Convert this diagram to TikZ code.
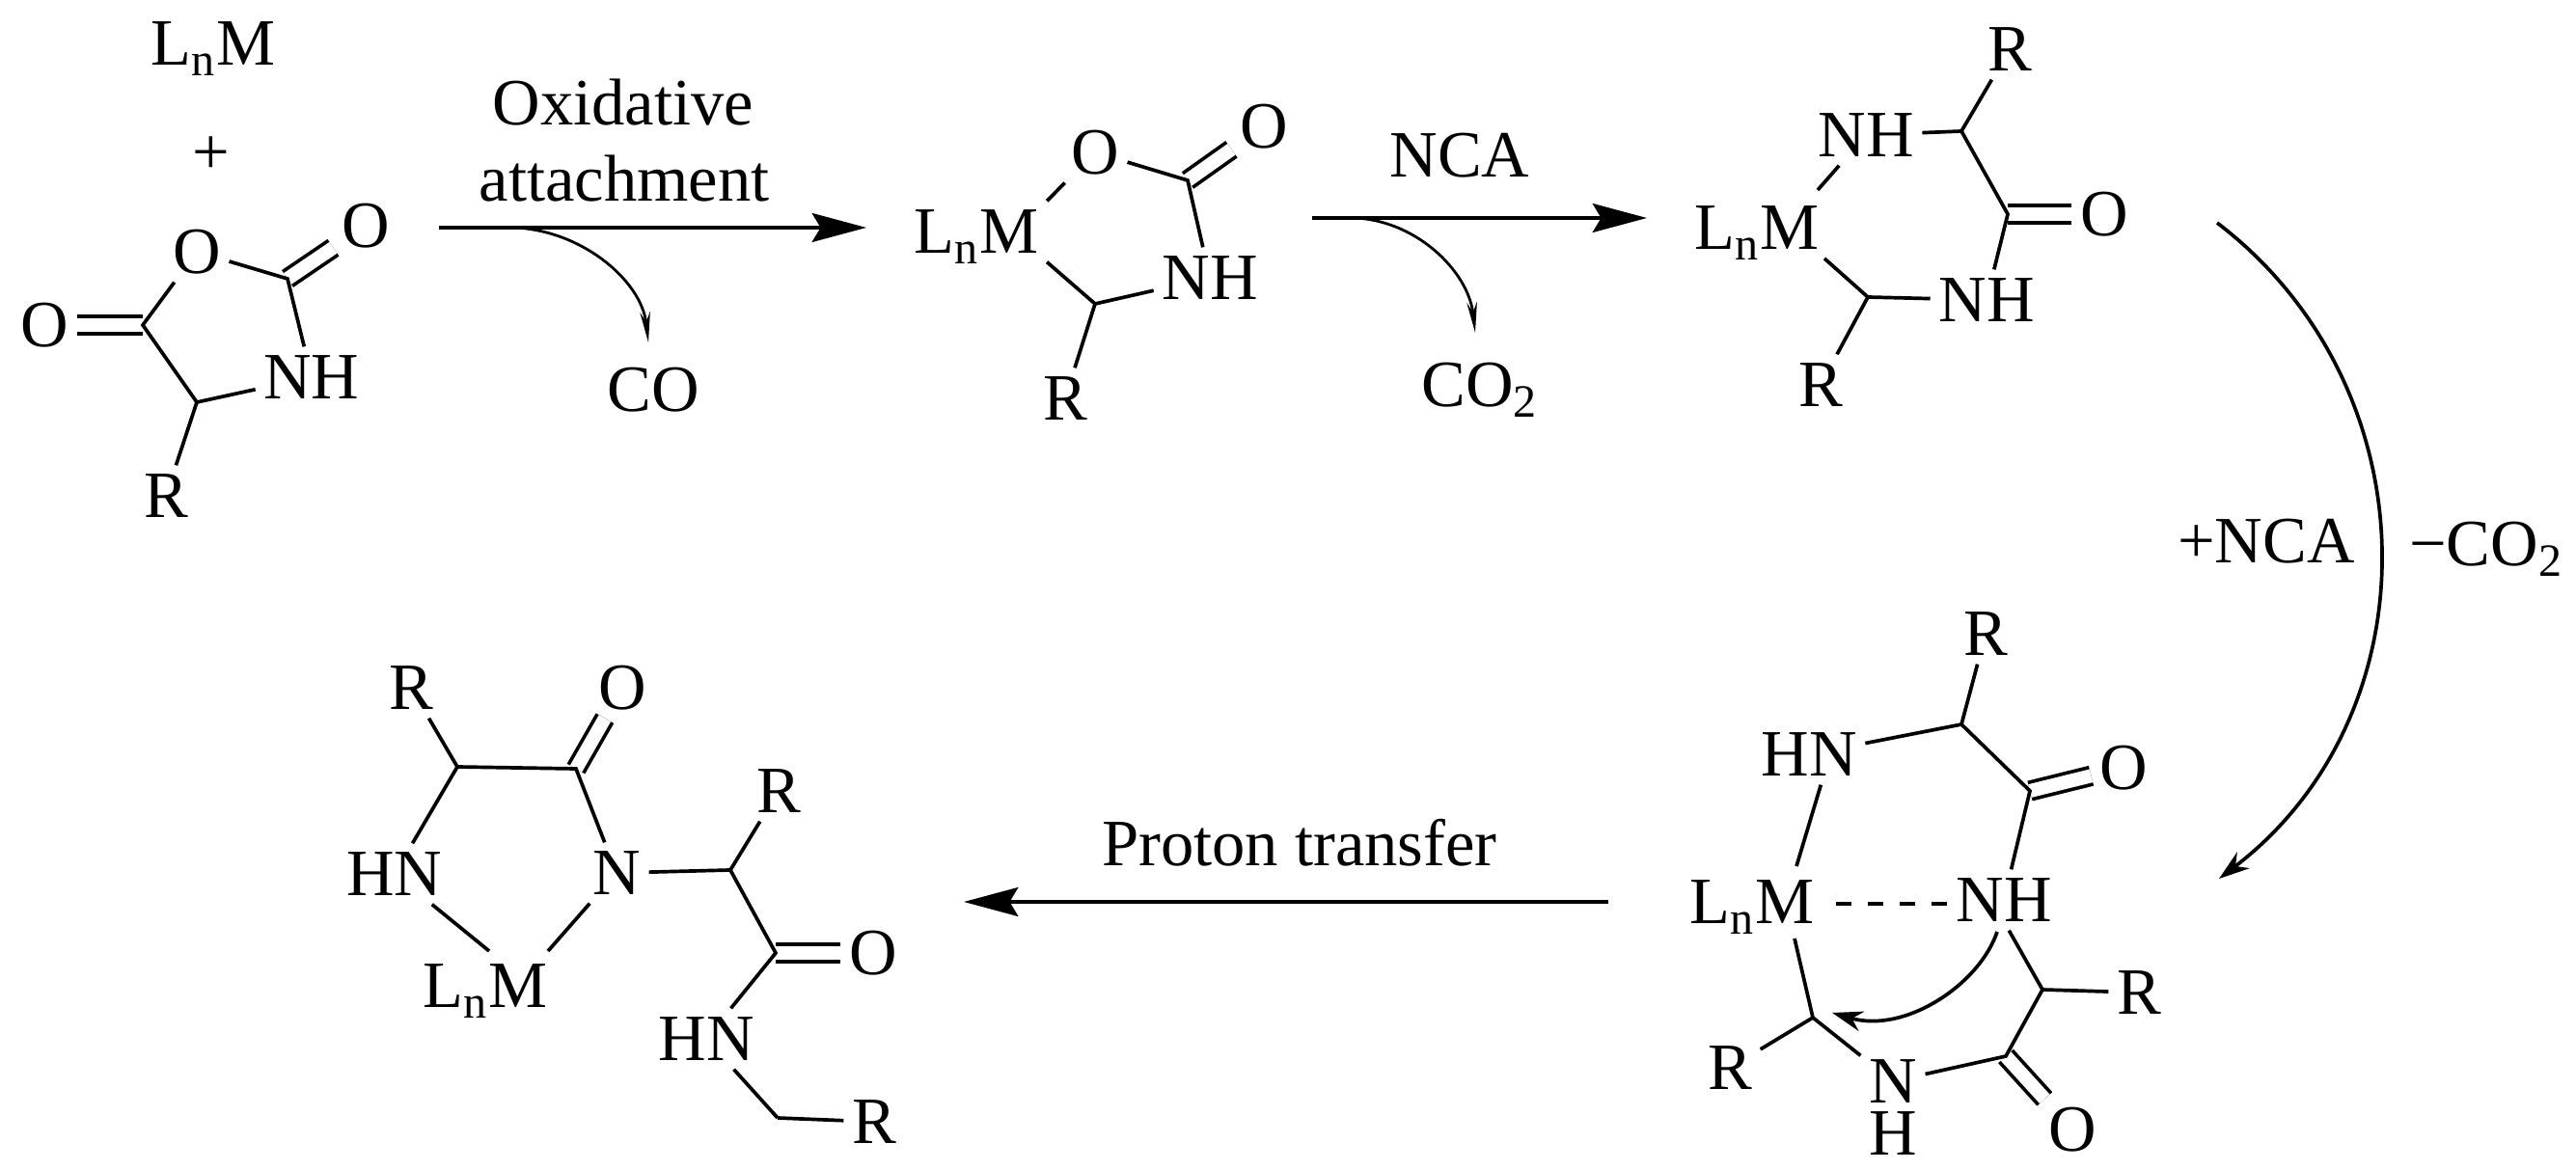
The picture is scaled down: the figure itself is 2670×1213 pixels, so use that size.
\documentclass[tikz,border=0pt]{standalone}
\usepackage{fontspec}
\setmainfont{Liberation Serif}
\usetikzlibrary{arrows.meta}

\tikzset{
    atom/.style={inner sep=2.3pt, text height=13pt, text depth=0pt, font=\fontsize{19.5}{23}\selectfont},
    bond/.style={line width=1.05pt},
    dbl/.style={line width=1.05pt, double, double distance=4pt},
    rxn/.style={line width=1.15pt, -{Stealth[length=16pt,width=8.5pt,inset=2.5pt]}},
    swoop/.style={line width=0.8pt, -{Stealth[length=9pt,width=3pt]}},
    bent/.style={line width=1.05pt, -{Stealth[length=9pt,width=6pt]}}
}
\newcommand{\lnm}{L\textsubscript{n}M}
\newcommand{\cotwo}{CO\textsubscript{2}}

\begin{document}
\begin{tikzpicture}[x=0.01cm, y=-0.01cm]
    \useasboundingbox (0,0) rectangle (2670,1213);

    \node[atom] (lnmfree) at (221,45) {\lnm};
    \node[atom] (plus) at (219,158) {+};
    \node[atom] (oa) at (204,261) {O};
    \node[atom] (oxa) at (379,234) {O};
    \node[atom] (oxb) at (46,337) {O};
    \node[atom] (nha) at (323,391) {NH};
    \node[atom] (ra) at (172,514) {R};
    \coordinate (ca) at (298,289);
    \coordinate (cb) at (148,337);
    \coordinate (cc) at (204,417);
    \draw[dbl] (ca) -- (oxa);
    \draw[dbl] (cb) -- (oxb);
    \draw[bond] (oa) -- (ca) -- (nha);
    \draw[bond] (oa) -- (cb) -- (cc) -- (nha);
    \draw[bond] (cc) -- (ra);

    \node[atom] (oxidative) at (646,107) {Oxidative};
    \node[atom] (attachment) at (647,186) {attachment};
    \coordinate (arra) at (455,236);
    \coordinate (arrb) at (898,236);
    \coordinate (swa) at (528,236);
    \coordinate (swb) at (672,355);
    \node[atom] (coa) at (677,404) {CO};
    \draw[rxn] (arra) -- (arrb);
    \draw[swoop] (swa) .. controls (600,236) and (665,290) .. (swb);

    \node[atom] (mb) at (1012,240) {\lnm};
    \node[atom] (ob) at (1135,158) {O};
    \node[atom] (oxc) at (1310,131) {O};
    \node[atom] (nhb) at (1254,288) {NH};
    \node[atom] (rb) at (1104,413) {R};
    \coordinate (cd) at (1231,187);
    \coordinate (ce) at (1135,315);
    \draw[dbl] (cd) -- (oxc);
    \draw[bond] (mb.north east) -- (ob) -- (cd) -- (nhb);
    \draw[bond] (mb.south east) -- (ce) -- (nhb);
    \draw[bond] (ce) -- (rb);

    \node[atom] (nca) at (1513,161) {NCA};
    \coordinate (arrc) at (1360,226);
    \coordinate (arrd) at (1707,226);
    \coordinate (swc) at (1400,226);
    \coordinate (swd) at (1529,345);
    \node[atom] (cob) at (1534,399) {\cotwo};
    \draw[rxn] (arrc) -- (arrd);
    \draw[swoop] (swc) .. controls (1465,226) and (1522,280) .. (swd);

    \node[atom] (mc) at (1821,236) {\lnm};
    \node[atom] (nhc) at (1934,140) {NH};
    \node[atom] (nhd) at (2059,311) {NH};
    \node[atom] (rc) at (2083,51) {R};
    \node[atom] (rd) at (1887,399) {R};
    \node[atom] (oxd) at (2181,222) {O};
    \coordinate (cf) at (2033,136);
    \coordinate (cg) at (2081,222);
    \coordinate (ch) at (1936,308);
    \coordinate (mca) at (1884,197);
    \coordinate (mcb) at (1891,268);
    \draw[dbl] (cg) -- (oxd);
    \draw[bond] (mca) -- (nhc) -- (cf) -- (cg) -- (nhd) -- (ch) -- (mcb);
    \draw[bond] (cf) -- (rc);
    \draw[bond] (ch) -- (rd);

    \coordinate (arre) at (2298,231);
    \coordinate (arrf) at (2300,911);
    \node[atom] (addnca) at (2349,561) {+NCA};
    \node[atom] (lossco) at (2577,564) {−\cotwo};
    \draw[bent] (arre) .. controls (2522,402) and (2524,740) .. (arrf);

    \node[atom] (md) at (1816,935) {\lnm};
    \node[atom] (hne) at (1875,782) {HN};
    \node[atom] (nhe) at (2077,933) {NH};
    \node[atom] (ne) at (1962,1121) {N};
    \node[atom] (he) at (1962,1175) {H};
    \node[atom] (re) at (2058,657) {R};
    \node[atom] (rf) at (2217,1029) {R};
    \node[atom] (rg) at (1793,1107) {R};
    \node[atom] (oxe) at (2201,796) {O};
    \node[atom] (oxf) at (2148,1171) {O};
    \coordinate (ci) at (2033,751);
    \coordinate (cj) at (2104,820);
    \coordinate (ck) at (2117,1026);
    \coordinate (cl) at (2079,1095);
    \coordinate (cm) at (1879,1055);
    \coordinate (mda) at (1862,898);
    \coordinate (mdb) at (1860,973);
    \coordinate (mdc) at (1903,937);
    \coordinate (bta) at (2070,966);
    \coordinate (btb) at (1899,1050);
    \draw[dbl] (cj) -- (oxe);
    \draw[dbl] (cl) -- (oxf);
    \draw[bond] (mda) -- ([xshift=3.5pt]hne.south);
    \draw[bond] (hne) -- (ci) -- (cj) -- (nhe);
    \draw[bond] (ci) -- (re);
    \draw[bond] ([xshift=1.5pt]nhe.south) -- (ck) -- (cl) -- (ne) -- (cm) -- (mdb);
    \draw[bond] (ck) -- (rf);
    \draw[bond] (cm) -- (rg);
    \draw[bond, dash pattern=on 4.4pt off 5pt] (mdc) -- (mdc -| nhe.west);
    \draw[bent] (bta) .. controls (2052,1020) and (1975,1072) .. (btb);

    \node[atom] (proton) at (1347,875) {Proton transfer};
    \coordinate (arrg) at (1667,935);
    \coordinate (arrh) at (999,935);
    \draw[rxn] (arrg) -- (arrh);

    \node[atom] (mh) at (503,1022) {\lnm};
    \node[atom] (hng) at (409,906) {HN};
    \node[atom] (ng) at (639,905) {N};
    \node[atom] (hnh) at (732,1077) {HN};
    \node[atom] (rh) at (426,713) {R};
    \node[atom] (ri) at (807,820) {R};
    \node[atom] (rj) at (906,1163) {R};
    \node[atom] (oxg) at (645,713) {O};
    \node[atom] (oxh) at (905,988) {O};
    \coordinate (cn) at (474,795);
    \coordinate (co) at (597,797);
    \coordinate (cp) at (757,902);
    \coordinate (cq) at (804,988);
    \coordinate (cr) at (806,1159);
    \coordinate (mha) at (507,986);
    \coordinate (mhb) at (568,986);
    \draw[dbl] (co) -- (oxg);
    \draw[dbl] (cq) -- (oxh);
    \draw[bond] (cr) -- (rj);
    \draw[bond] (rh) -- (cn) -- (co) -- (ng) -- (cp) -- (cq) -- (hnh) -- (cr);
    \draw[bond] (cn) -- (hng) -- (mha);
    \draw[bond] (ng) -- (mhb);
    \draw[bond] (cp) -- (ri);
\end{tikzpicture}
\end{document}
